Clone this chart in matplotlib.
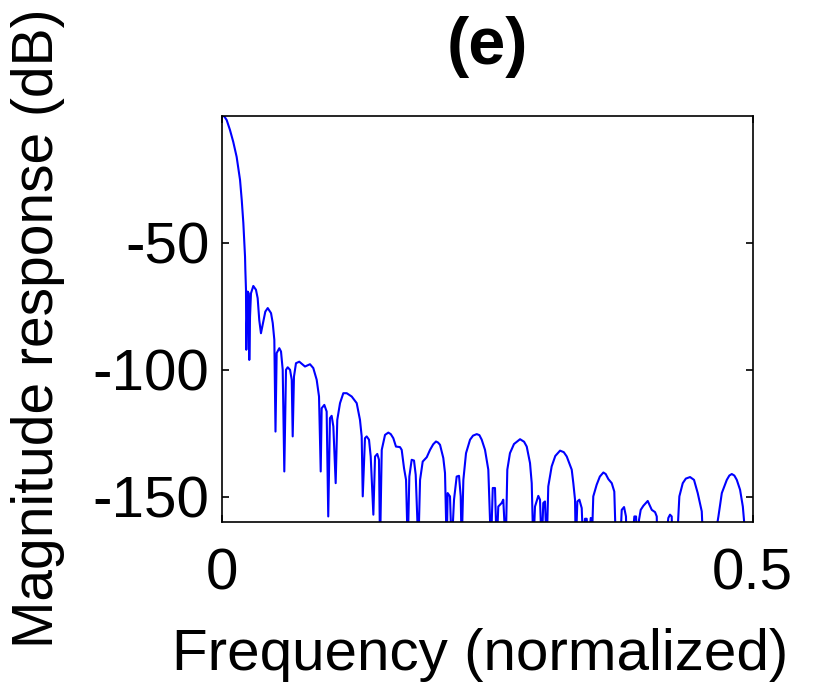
import matplotlib
matplotlib.use("Agg")
import matplotlib.pyplot as plt

plt.rcParams['font.family'] = ['Liberation Sans', 'DejaVu Sans']
plt.rcParams['axes.unicode_minus'] = False

# Normalized frequency and magnitude response (dB)
freq = [
    0.0000, 0.0022, 0.0044, 0.0075, 0.0106, 0.0138, 0.0170, 0.0186, 0.0201, 0.0210,
    0.0217, 0.0220, 0.0226, 0.0229, 0.0242, 0.0252, 0.0257, 0.0264, 0.0273, 0.0295,
    0.0320, 0.0336, 0.0351, 0.0367, 0.0383, 0.0408, 0.0431, 0.0462, 0.0478, 0.0493,
    0.0504, 0.0515, 0.0540, 0.0556, 0.0572, 0.0587, 0.0603, 0.0619, 0.0641, 0.0657,
    0.0666, 0.0678, 0.0697, 0.0728, 0.0782, 0.0829, 0.0860, 0.0892, 0.0914, 0.0930,
    0.0939, 0.0964, 0.0986, 0.1001, 0.1017, 0.1033, 0.1049, 0.1071, 0.1086, 0.1112,
    0.1143, 0.1175, 0.1222, 0.1269, 0.1300, 0.1316, 0.1326, 0.1347, 0.1363, 0.1385,
    0.1401, 0.1426, 0.1442, 0.1463, 0.1479, 0.1489, 0.1505, 0.1536, 0.1567, 0.1590,
    0.1614, 0.1639, 0.1677, 0.1693, 0.1715, 0.1734, 0.1750, 0.1765, 0.1787, 0.1809,
    0.1825, 0.1850, 0.1866, 0.1891, 0.1929, 0.1960, 0.1990, 0.2016, 0.2035, 0.2054,
    0.2085, 0.2101, 0.2117, 0.2126, 0.2148, 0.2164, 0.2186, 0.2211, 0.2233, 0.2249,
    0.2258, 0.2274, 0.2299, 0.2337, 0.2365, 0.2400, 0.2425, 0.2447, 0.2478, 0.2509,
    0.2534, 0.2551, 0.2572, 0.2588, 0.2603, 0.2635, 0.2650, 0.2673, 0.2688, 0.2713,
    0.2751, 0.2808, 0.2846, 0.2871, 0.2902, 0.2918, 0.2933, 0.2949, 0.2980, 0.2996,
    0.3012, 0.3027, 0.3043, 0.3059, 0.3074, 0.3106, 0.3140, 0.3185, 0.3220, 0.3248,
    0.3295, 0.3310, 0.3326, 0.3333, 0.3348, 0.3367, 0.3389, 0.3404, 0.3420, 0.3436,
    0.3451, 0.3474, 0.3483, 0.3498, 0.3530, 0.3560, 0.3593, 0.3615, 0.3640, 0.3672,
    0.3696, 0.3712, 0.3745, 0.3766, 0.3788, 0.3806, 0.3813, 0.3844, 0.3885, 0.3901,
    0.3913, 0.3929, 0.3945, 0.3970, 0.4011, 0.4049, 0.4080, 0.4096, 0.4102, 0.4155,
    0.4205, 0.4221, 0.4237, 0.4243, 0.4278, 0.4309, 0.4341, 0.4370, 0.4410, 0.4447,
    0.4482, 0.4520, 0.4535, 0.4598, 0.4677, 0.4709, 0.4756, 0.4780, 0.4803, 0.4827,
    0.4850, 0.4881, 0.4907, 0.4919, 0.4957, 0.5000,
]
mag_db = [
    0.0, -0.3, -1.7, -5.6, -10.3, -16.2, -25.3, -33.2, -42.2, -50.1,
    -55.5, -60.7, -68.5, -92.1, -69.2, -69.9, -96.1, -79.1, -69.9, -67.0,
    -68.5, -71.8, -80.4, -85.6, -82.3, -77.1, -75.7, -77.7, -81.6, -88.2,
    -124.3, -93.4, -91.5, -92.8, -100.0, -140.0, -100.0, -99.0, -100.0, -103.9,
    -126.2, -102.7, -97.4, -96.8, -98.7, -97.8, -99.3, -103.9, -110.5, -140.0,
    -115.1, -113.8, -116.4, -157.7, -119.0, -118.1, -122.3, -144.6, -119.7, -113.1,
    -109.2, -109.2, -110.5, -113.1, -119.7, -126.2, -149.8, -126.9, -126.2, -127.5,
    -134.1, -157.0, -134.1, -133.1, -135.4, -170.0, -131.5, -125.6, -124.7, -125.3,
    -126.9, -130.2, -130.4, -131.5, -138.7, -143.3, -170.0, -142.0, -135.4, -135.7,
    -141.3, -170.0, -143.3, -136.1, -134.4, -131.5, -129.3, -128.2, -128.6, -129.5,
    -134.7, -140.6, -170.0, -148.5, -149.8, -170.0, -151.1, -142.0, -141.7, -149.8,
    -170.0, -143.3, -132.8, -127.5, -125.9, -125.3, -125.7, -127.5, -131.5, -139.3,
    -170.0, -146.5, -146.5, -170.0, -153.8, -152.4, -151.1, -170.0, -139.3, -132.8,
    -129.2, -127.3, -128.3, -130.2, -136.7, -144.6, -170.0, -153.8, -149.6, -151.1,
    -170.0, -152.4, -151.8, -170.0, -145.9, -138.0, -133.9, -131.8, -132.4, -134.1,
    -139.3, -144.6, -151.1, -170.0, -151.8, -151.1, -154.4, -170.0, -158.6, -158.6,
    -170.0, -158.3, -170.0, -149.8, -145.2, -142.0, -140.4, -141.0, -143.0, -144.6,
    -147.9, -170.0, -175.0, -155.1, -154.0, -157.7, -170.0, -178.0, -157.7, -157.7,
    -170.0, -159.0, -155.1, -153.5, -151.6, -155.1, -156.0, -157.7, -170.0, -178.0,
    -158.3, -157.0, -157.7, -170.0, -175.0, -149.8, -144.6, -142.8, -142.2, -143.3,
    -148.5, -155.7, -170.0, -178.0, -157.7, -148.5, -143.3, -141.6, -141.0, -141.6,
    -143.3, -147.2, -153.8, -159.7, -178.0, -180.0,
]

x_ticks = [0, 0.5]
x_tick_labels = ["0", "0.5"]
y_ticks = [-150, -100, -50]
y_tick_labels = ["-150", "-100", "-50"]

W, H = 832, 686
fig = plt.figure(figsize=(W / 100, H / 100), dpi=100)
L, R, T, B = 222, 752.7, 115.7, 522.3
ax = fig.add_axes([L / W, 1 - B / H, (R - L) / W, (B - T) / H])

ax.plot(freq, mag_db, color='#0000ff', lw=1.5)
ax.set_xlim(0, 0.5)
ax.set_ylim(-160, 0)

fs = 42
ax.set_xticks(x_ticks)
ax.set_xticklabels(x_tick_labels, fontsize=fs)
ax.set_yticks(y_ticks)
ax.set_yticklabels(y_tick_labels, fontsize=fs)
ax.tick_params(axis='both', direction='in', length=5, width=1.2,
               top=True, right=True)
ax.tick_params(axis='y', pad=9)
ax.tick_params(axis='x', pad=18)
for s in ax.spines.values():
    s.set_linewidth(1.2)

ax.set_xlabel("Frequency (normalized)", fontsize=fs)
ax.xaxis.label.set_va('center')
ax.xaxis.set_label_coords((480 - L) / (R - L), (B - 655) / (B - T))
ax.set_ylabel("Magnitude response (dB)", fontsize=41)
ax.yaxis.label.set_va('center')
ax.yaxis.set_label_coords((38 - L) / (R - L), (B - 328) / (B - T))
ax.set_title("(e)", fontsize=48, fontweight='bold', y=(B - 64) / (B - T), pad=0)

fig.savefig("out.png", dpi=100)
